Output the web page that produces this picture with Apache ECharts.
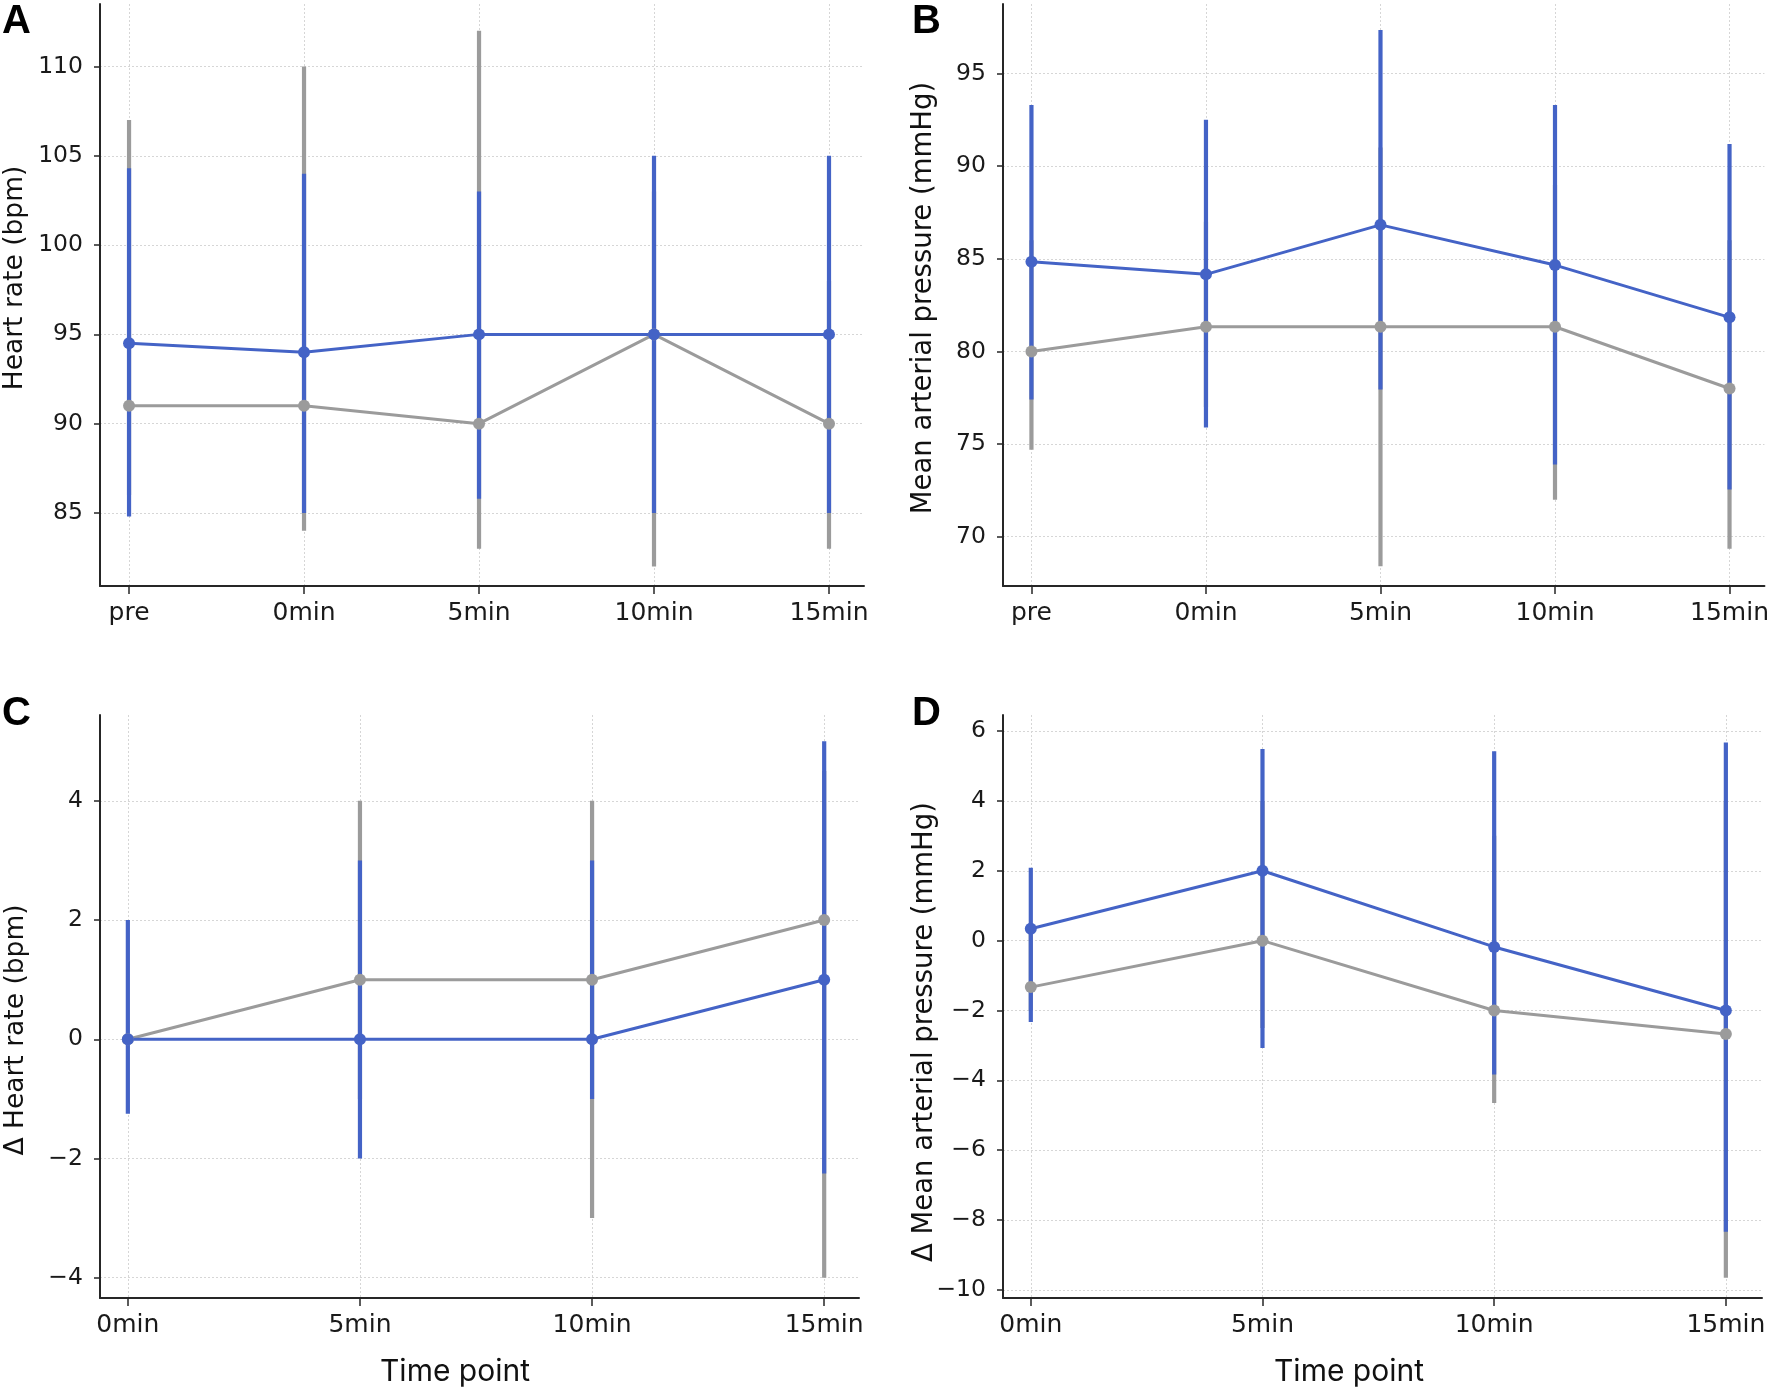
<!DOCTYPE html>
<html>
<head>
<meta charset="utf-8">
<script src="https://cdn.jsdelivr.net/npm/echarts@6/dist/echarts.min.js"></script>
<style>
html,body{margin:0;padding:0;background:#fff;}
#chart{width:1772px;height:1390px;}
</style>
</head>
<body>
<div id="chart"></div>
<script>
// ---- Categories ----
const catsAB = ['pre', '0min', '5min', '10min', '15min'];
const catsCD = ['0min', '5min', '10min', '15min'];

// ---- Tick labels ----
const ticksA = [85, 90, 95, 100, 105, 110];
const ticksB = [70, 75, 80, 85, 90, 95];
const ticksC = [-4, -2, 0, 2, 4];
const ticksD = [-10, -8, -6, -4, -2, 0, 2, 4, 6];

// ---- Panel A: Heart rate (bpm) ----
const hrBlueMean = [94.5, 94, 95, 95, 95];
const hrBlueLow  = [84.8, 85, 85.8, 85, 85];
const hrBlueHigh = [104.3, 104, 103, 105, 105];
const hrGrayMean = [91, 91, 90, 95, 90];
const hrGrayLow  = [86, 84, 83, 82, 83];
const hrGrayHigh = [107, 110, 112, 103, 98];

// ---- Panel B: Mean arterial pressure (mmHg) ----
const mapBlueMean = [84.84, 84.16, 86.83, 84.66, 81.84];
const mapBlueLow  = [77.4, 75.9, 77.95, 73.9, 72.55];
const mapBlueHigh = [93.3, 92.5, 97.35, 93.3, 91.2];
const mapGrayMean = [80, 81.33, 81.33, 81.33, 78];
const mapGrayLow  = [74.7, 77, 68.4, 72, 69.35];
const mapGrayHigh = [86, 87, 91, 89, 86];

// ---- Panel C: Δ Heart rate (bpm) ----
const dhrBlueMean = [0, 0, 0, 1];
const dhrBlueLow  = [-1.25, -2, -1, -2.25];
const dhrBlueHigh = [2, 3, 3, 5];
const dhrGrayMean = [0, 1, 1, 2];
const dhrGrayLow  = [0, -1, -3, -4];
const dhrGrayHigh = [0, 4, 4, 4.5];

// ---- Panel D: Δ Mean arterial pressure (mmHg) ----
const dmapBlueMean = [0.34, 2.0, -0.18, -2.0];
const dmapBlueLow  = [-2.33, -3.07, -3.83, -8.33];
const dmapBlueHigh = [2.09, 5.49, 5.42, 5.67];
const dmapGrayMean = [-1.33, 0, -2, -2.67];
const dmapGrayLow  = [-2.0, -2.5, -4.65, -9.65];
const dmapGrayHigh = [0.5, 4, 3, 4];

const BLUE = '#4463c6';
const GRAY = '#9b9b9b';
const AXIS = '#262626';
const FONT = 'DejaVu Sans';

const chart = echarts.init(document.getElementById('chart'), null, {renderer: 'canvas'});

function idx(arr) { return arr.map((_, i) => i); }

function xAxisFor(gridIndex, cats, min, max, fs) {
  return {
    type: 'value', gridIndex: gridIndex, min: min, max: max,
    axisLine: {show: true, onZero: false, lineStyle: {color: AXIS, width: 2}},
    axisTick: {show: true, length: 8, customValues: idx(cats), lineStyle: {color: AXIS, width: 1.5}},
    axisLabel: {
      customValues: idx(cats), margin: 15,
      formatter: v => cats[Math.round(v)] || '',
      fontFamily: FONT, fontSize: fs, color: '#1a1a1a'
    },
    splitLine: {show: true, lineStyle: {color: '#d6d6d6', width: 1, type: [2, 2]}}
  };
}
function yAxisFor(gridIndex, ticks, min, max, fs) {
  return {
    type: 'value', gridIndex: gridIndex, min: min, max: max,
    axisLine: {show: true, onZero: false, lineStyle: {color: AXIS, width: 2}},
    axisTick: {show: true, length: 6, customValues: ticks, lineStyle: {color: AXIS, width: 1.5}},
    axisLabel: {
      customValues: ticks, margin: 17,
      formatter: v => String(v).replace('-', '\u2212'),
      fontFamily: FONT, fontSize: fs, color: '#1a1a1a'
    },
    splitLine: {show: true, lineStyle: {color: '#d6d6d6', width: 1, type: [2, 2]}}
  };
}

function errSeries(ai, low, high, color) {
  return {
    type: 'custom', xAxisIndex: ai, yAxisIndex: ai,
    data: low.map((l, i) => [i, l, high[i]]),
    encode: {x: 0, y: [1, 2]},
    silent: true,
    renderItem: function (params, api) {
      const x = api.value(0);
      const p1 = api.coord([x, api.value(1)]);
      const p2 = api.coord([x, api.value(2)]);
      return {type: 'line', shape: {x1: p1[0], y1: p1[1], x2: p2[0], y2: p2[1]},
              style: {stroke: color, lineWidth: 4.2}};
    }
  };
}
function lineSeries(ai, mean, color) {
  return {
    type: 'line', xAxisIndex: ai, yAxisIndex: ai,
    data: mean.map((m, i) => [i, m]),
    symbol: 'circle', symbolSize: 12, showSymbol: true,
    lineStyle: {color: color, width: 3},
    itemStyle: {color: color},
    silent: true, animation: false
  };
}
function panel(ai, gMean, gLow, gHigh, bMean, bLow, bHigh) {
  return [
    errSeries(ai, gLow, gHigh, GRAY),
    lineSeries(ai, gMean, GRAY),
    errSeries(ai, bLow, bHigh, BLUE),
    lineSeries(ai, bMean, BLUE)
  ];
}

function txt(text, x, y, style, extra) {
  return Object.assign({
    type: 'text', x: x, y: y,
    style: Object.assign({text: text, fill: '#111', fontFamily: FONT, fontSize: 26,
                          align: 'center', verticalAlign: 'middle'}, style || {})
  }, extra || {});
}
const letterStyle = {fontFamily: 'Liberation Sans', fontWeight: 'bold', fontSize: 40, align: 'left', verticalAlign: 'top', fill: '#000'};
const rot = {rotation: Math.PI / 2};

const option = {
  backgroundColor: '#fff',
  animation: false,
  grid: [
    {left: 100, top: 4, width: 764, height: 582},
    {left: 1003, top: 4, width: 764, height: 582},
    {left: 100, top: 715, width: 759, height: 583},
    {left: 1003, top: 715, width: 759, height: 583}
  ],
  xAxis: [
    xAxisFor(0, catsAB, -0.166, 4.2, 25),
    xAxisFor(1, catsAB, -0.163, 4.2, 25),
    xAxisFor(2, catsCD, -0.12, 3.15, 25),
    xAxisFor(3, catsCD, -0.12, 3.156, 25)
  ],
  yAxis: [
    yAxisFor(0, ticksA, 80.91, 113.5, 23.5),
    yAxisFor(1, ticksB, 67.34, 98.75, 23.5),
    yAxisFor(2, ticksC, -4.34, 5.44, 23.5),
    yAxisFor(3, ticksD, -10.23, 6.46, 23.5)
  ],
  series: [].concat(
    panel(0, hrGrayMean, hrGrayLow, hrGrayHigh, hrBlueMean, hrBlueLow, hrBlueHigh),
    panel(1, mapGrayMean, mapGrayLow, mapGrayHigh, mapBlueMean, mapBlueLow, mapBlueHigh),
    panel(2, dhrGrayMean, dhrGrayLow, dhrGrayHigh, dhrBlueMean, dhrBlueLow, dhrBlueHigh),
    panel(3, dmapGrayMean, dmapGrayLow, dmapGrayHigh, dmapBlueMean, dmapBlueLow, dmapBlueHigh)
  ),
  graphic: [
    txt('A', 2, 2, letterStyle),
    txt('B', 912, 2, letterStyle),
    txt('C', 2, 694, letterStyle),
    txt('D', 912, 694, letterStyle),
    txt('Heart rate (bpm)', 15, 278, {fontSize: 26.5}, rot),
    txt('Mean arterial pressure (mmHg)', 924, 298, {fontSize: 27.5}, rot),
    txt('\u0394 Heart rate (bpm)', 16, 1030, {fontSize: 26.5}, rot),
    txt('\u0394 Mean arterial pressure (mmHg)', 925, 1032, {fontSize: 27.5}, rot),
    txt('Time point', 455, 1372, {fontFamily: 'Inter', fontSize: 30}),
    txt('Time point', 1349, 1372, {fontFamily: 'Inter', fontSize: 30})
  ]
};
chart.setOption(option);
</script>
</body>
</html>
